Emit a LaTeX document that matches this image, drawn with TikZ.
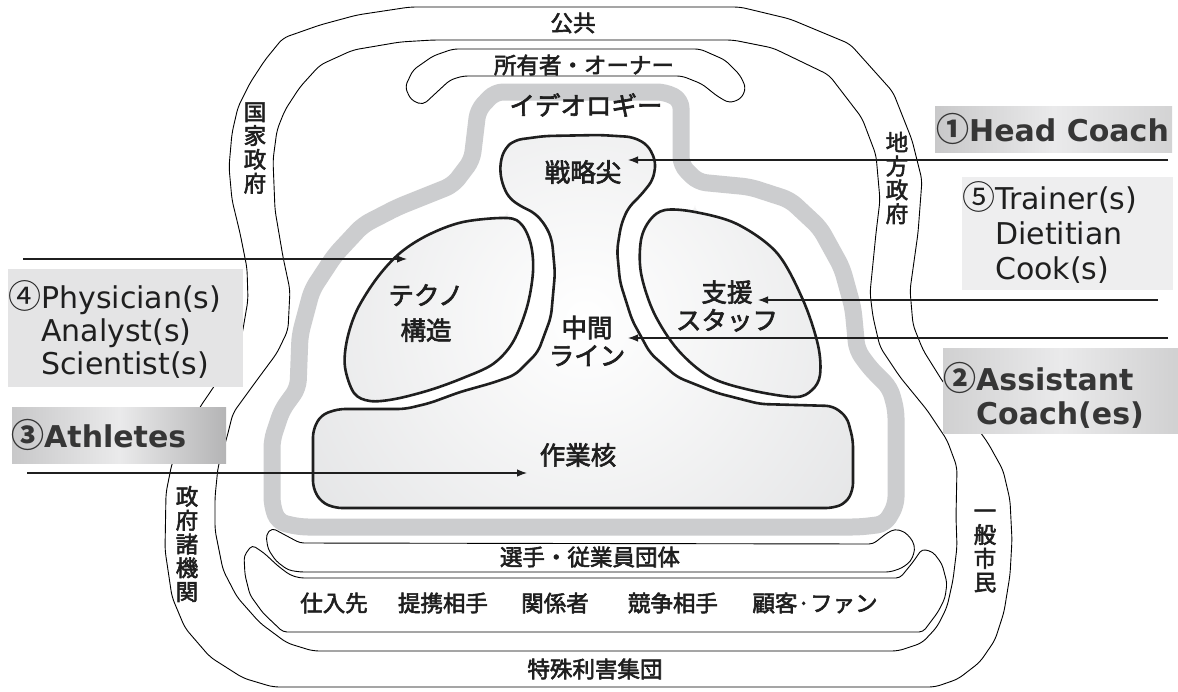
\documentclass[tikz,border=0pt]{standalone}
\usepackage{fontspec}
\setmainfont{DejaVu Sans}
\newfontfamily\cjk[FakeBold=2.5]{Noto Sans CJK JP}
\newfontfamily\cjkdigit[Scale=1.1]{Noto Sans CJK JP}
\usetikzlibrary{arrows.meta}
\definecolor{ink}{HTML}{1F1F1F}
\definecolor{boldink}{HTML}{363636}
\definecolor{bandgray}{HTML}{CCCDCF}
\definecolor{shapegray}{HTML}{D6D7D9}
\definecolor{boxA}{HTML}{E4E4E5}
\definecolor{boxB}{HTML}{EEEEEF}
\definecolor{boxdark}{HTML}{C8C8C9}
\definecolor{boxmid}{HTML}{EAEAEB}
\def\mainpath{(515,140) -- (545,136) -- (600,135) -- (633,137) -- (648,145) -- (656,162) -- (653,180) -- (641,195) -- (628,208) -- (621,225) -- (617,250) -- (620,282) -- (632,320) -- (650,353) -- (677,377) -- (717,393) -- (760,404) -- (833,406) -- (847,417) -- (853,440) -- (853,490) -- (846,503) -- (833,508) -- (335,508) -- (321,502) -- (313,488) -- (313,430) -- (321,415) -- (338,409) -- (405,409) -- (430,403) -- (460,392) -- (492,383) -- (515,375) -- (538,352) -- (551,317) -- (555,273) -- (552,240) -- (546,226) -- (535,213) -- (520,206) -- (508,197) -- (501,180) -- (500,163) -- (505,148) -- cycle}
\def\technopath{plot[smooth cycle, tension=0.55] coordinates {(463,222) (507,218) (522,225) (531,245) (533,272) (527,307) (513,342) (493,364) (463,378) (430,390) (395,399) (370,401) (354,393) (345,367) (347,340) (357,310) (377,278) (400,253) (428,235)}}
\def\supportpath{plot[smooth cycle, tension=0.55] coordinates {(665,210) (695,212) (737,224) (777,253) (803,300) (818,345) (820,375) (812,390) (795,397) (750,390) (710,377) (678,350) (654,313) (641,273) (641,240) (650,220)}}
\begin{document}
\begin{tikzpicture}[x=1pt,y=-1pt,
  thinln/.style={line width=0.9pt, draw=black, line join=round},
  thickln/.style={line width=2.6pt, draw=ink, line join=round},
  arr/.style={line width=1.2pt, draw=ink, -{Latex[length=10pt,width=7.5pt]}},
  jpo/.style={font=\cjk\fontsize{22.5}{24}\selectfont, text=ink, inner sep=0pt},
  jpi/.style={font=\cjk\fontsize{25.5}{28}\selectfont, text=ink, inner sep=0pt, align=center},
  vert/.style={font=\cjk\fontsize{22.5}{23.8}\selectfont, text=ink, inner sep=0pt, align=center},
  lab/.style={font=\fontsize{30}{33}\selectfont, text=ink, inner sep=0pt, align=left, anchor=west},
  blab/.style={font=\bfseries\fontsize{30}{34}\selectfont, text=boldink, inner sep=0pt, align=left, anchor=west},
  boxflat/.style={inner sep=0pt, anchor=north west, draw=none},
]
\useasboundingbox (0,0) rectangle (1178,691);
\fill[white] (0,0) rectangle (1178,691);

% outer ring A
\draw[thinln, rounded corners=6pt] (410,7) -- (740,7) -- (790,19) -- (850,44) -- (893,92) -- (912,140) -- (922,180) -- (918,233) -- (910,290) -- (913,325) -- (923,350) -- (943,382) -- (968,415) -- (988,443) -- (1003,470) -- (1010,500) -- (1012,540) -- (1010,575) -- (1004,612) -- (995,640) -- (980,662) -- (958,679) -- (935,687) -- (273,687) -- (243,678) -- (210,657) -- (185,628) -- (172,597) -- (165,550) -- (166,493) -- (172,463) -- (186,434) -- (200,407) -- (213,388) -- (228,365) -- (242,335) -- (248,300) -- (247,268) -- (240,233) -- (232,200) -- (229,167) -- (232,133) -- (238,107) -- (250,83) -- (265,60) -- (283,38) -- (320,25) -- (357,15) -- cycle;
% ring B
\draw[thinln, rounded corners=6pt] (433,40) -- (733,40) -- (773,48) -- (829,75) -- (862,118) -- (876,155) -- (880,200) -- (876,233) -- (870,293) -- (873,317) -- (880,347) -- (900,377) -- (927,410) -- (947,440) -- (957,467) -- (956,517) -- (957,547) -- (953,580) -- (947,607) -- (937,627) -- (922,643) -- (898,651) -- (313,651) -- (287,643) -- (260,623) -- (237,597) -- (223,570) -- (215,530) -- (215,497) -- (218,467) -- (227,437) -- (233,413) -- (257,380) -- (277,353) -- (288,330) -- (290,290) -- (283,257) -- (275,210) -- (273,160) -- (277,130) -- (285,110) -- (300,87) -- (320,65) -- (353,50) -- (400,42) -- cycle;
% owner loop
\draw[thinln, rounded corners=5pt] (453,49) -- (700,49) -- (725,60) -- (740,75) -- (746,88) -- (741,99) -- (729,103) -- (717,96) -- (702,84) -- (682,76) -- (463,76) -- (450,80) -- (437,92) -- (423,105) -- (411,100) -- (405,87) -- (413,70) -- (433,56) -- cycle;
% players loop
\draw[thinln, rounded corners=4pt] (300,543) -- (873,544) -- (887,533) -- (895,529) -- (905,532) -- (913,541) -- (915,550) -- (911,561) -- (902,568) -- (890,572) -- (300,572) -- (288,570) -- (276,561) -- (268,549) -- (266,535) -- (272,528) -- (285,535) -- cycle;
% stakeholders loop
\draw[thinln, rounded corners=4pt] (300,578) -- (900,578) -- (913,562) -- (922,549) -- (933,552) -- (942,564) -- (947,583) -- (945,598) -- (938,612) -- (923,632) -- (283,632) -- (263,613) -- (250,595) -- (245,575) -- (244,556) -- (252,545) -- (264,553) -- (278,566) -- (290,575) -- cycle;

% ideology band
\draw[bandgray, line width=17pt, line join=round, rounded corners=8pt] (495,92) -- (665,92) -- (681,100) -- (681,165) -- (698,182) -- (750,187) -- (790,200) -- (820,228) -- (842,268) -- (853,308) -- (857,350) -- (870,368) -- (890,388) -- (896,410) -- (896,505) -- (885,524) -- (860,527) -- (300,527) -- (278,522) -- (272,505) -- (272,440) -- (282,410) -- (298,388) -- (300,335) -- (312,290) -- (335,255) -- (363,225) -- (398,207) -- (453,185) -- (472,160) -- (478,110) -- cycle;

% shaded organisation parts
\begin{scope}
  \clip[rounded corners=7pt] \mainpath \technopath \supportpath;
  \shade[inner color=white, outer color=shapegray] (585,320) circle[radius=520pt];
\end{scope}
\draw[thickln, rounded corners=7pt] \mainpath;
\draw[thickln] \technopath;
\draw[thickln] \supportpath;

% Japanese labels
\node[jpo] (kokyo) at (573,23) {公共};
\node[jpo] (owner) at (584,65) {所有者・オーナー};
\node[jpi] (ideo) at (586,105) {イデオロギー};
\node[jpi] (apex) at (583,172) {戦略尖};
\node[jpi, font=\cjk\fontsize{25.5}{35}\selectfont] (techno) at (426,313) {テクノ\\構造};
\node[jpi] (midline) at (587,341) {中間\\ライン};
\node[jpi] (support) at (727,306) {支援\\スタッフ};
\node[jpi] (core) at (578,455) {作業核};
\node[jpo] (players) at (590,557) {選手・従業員団体};
\node[jpo] (sup1) at (334,603) {仕入先};
\node[jpo] (sup2) at (443,603) {提携相手};
\node[jpo] (sup3) at (555,603) {関係者};
\node[jpo] (sup4) at (673,603) {競争相手};
\node[jpo] (sup5) at (815,603) {顧客·ファン};
\node[jpo] (special) at (595,669) {特殊利害集団};
\node[vert] (natgov) at (255,148) {国\\家\\政\\府};
\node[vert] (locgov) at (897,178) {地\\方\\政\\府};
\node[vert] (agency) at (187,544) {政\\府\\諸\\機\\関};
\node[vert] (public) at (985,551) {一\\般\\市\\民};

% role boxes
\node[boxflat, left color=boxdark, right color=boxdark!80!white, middle color=boxmid, minimum width=237pt, minimum height=46pt] (hcbox) at (935,106) {};
\node[boxflat, fill=boxB, minimum width=211pt, minimum height=113pt] (trbox) at (962,177) {};
\node[boxflat, left color=boxdark!85!white, right color=boxdark!85!white, middle color=boxmid, minimum width=235pt, minimum height=85pt] (acbox) at (943,348) {};
\node[boxflat, fill=boxA, minimum width=235pt, minimum height=118pt] (phbox) at (8,269) {};
\node[boxflat, left color=boxdark, right color=boxdark!90!black, middle color=boxmid, minimum width=214pt, minimum height=56pt] (atbox) at (12,407) {};

\node[blab] (hctext) at (936,129) {{\cjkdigit\bfseries ①}Head Coach};
\node[lab, font=\fontsize{30}{35}\selectfont] (trtext) at (962,233) {{\cjkdigit ⑤}Trainer(s)\\\hphantom{\cjkdigit ⑤}Dietitian\\\hphantom{\cjkdigit ⑤}Cook(s)};
\node[blab] (actext) at (943,395) {{\cjkdigit\bfseries ②}Assistant\\\hphantom{\cjkdigit\bfseries ②}Coach(es)};
\node[lab] (phtext) at (8,330) {{\cjkdigit ④}Physician(s)\\\hphantom{\cjkdigit ④}Analyst(s)\\\hphantom{\cjkdigit ④}Scientist(s)};
\node[blab] (attext) at (11,435) {{\cjkdigit\bfseries ③}Athletes};

% arrows
\coordinate (hcS) at (1168,160); \coordinate (hcT) at (628,160);
\coordinate (trS) at (1158,300); \coordinate (trT) at (758,300);
\coordinate (acS) at (1168,338); \coordinate (acT) at (628,338);
\coordinate (phS) at (23,259);   \coordinate (phT) at (407,259);
\coordinate (atS) at (27,473);   \coordinate (atT) at (527,473);
\draw[arr] (hcS) -- (hcT);
\draw[arr] (trS) -- (trT);
\draw[arr] (acS) -- (acT);
\draw[arr] (phS) -- (phT);
\draw[arr] (atS) -- (atT);
\end{tikzpicture}
\end{document}
